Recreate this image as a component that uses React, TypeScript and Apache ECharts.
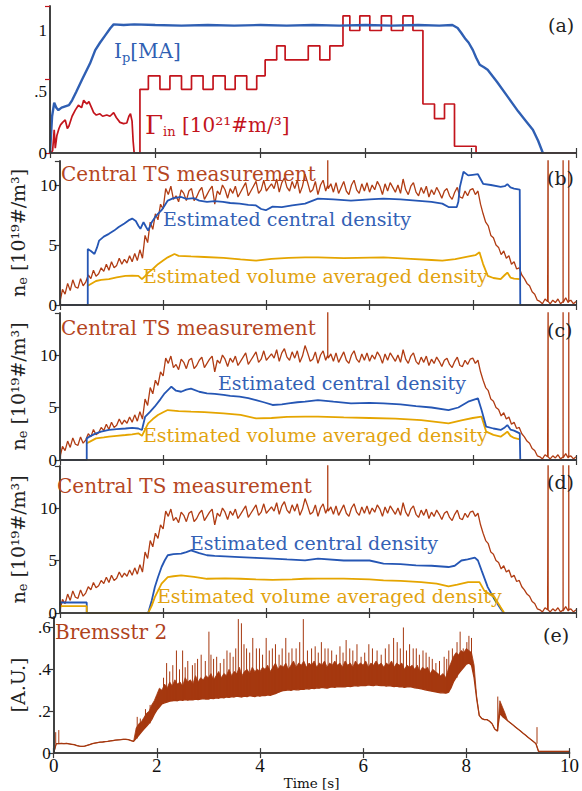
import React, { useEffect, useRef } from 'react';
import * as echarts from 'echarts';

// ---------- Panel (a): plasma current and gas puff ----------
const ipT = [0, 0.04, 0.08, 0.12, 0.16, 0.22, 0.29, 0.36, 0.42, 0.5, 0.61, 0.76, 0.86, 0.95, 1.05, 1.15, 1.21, 1.4, 1.6, 2.0, 2.5, 3.0, 3.5, 4.0, 4.5, 5.0, 5.5, 6.0, 6.5, 7.0, 7.4, 7.65, 7.75, 7.82, 7.9, 7.96, 8.04, 8.1, 8.17, 8.25, 8.32, 8.5, 8.7, 8.9, 9.05, 9.18, 9.28, 9.37];
const ipV = [0, 0.3, 0.41, 0.37, 0.35, 0.37, 0.38, 0.39, 0.43, 0.5, 0.6, 0.73, 0.84, 0.9, 0.96, 1.02, 1.05, 1.045, 1.05, 1.045, 1.04, 1.045, 1.04, 1.045, 1.04, 1.045, 1.04, 1.045, 1.04, 1.045, 1.04, 1.045, 1.02, 0.98, 0.93, 0.9, 0.84, 0.78, 0.72, 0.7, 0.68, 0.58, 0.46, 0.34, 0.26, 0.19, 0.1, 0.0];

const gammaPreT = [0.02, 0.05, 0.08, 0.1, 0.13, 0.17, 0.2, 0.24, 0.29, 0.33, 0.36, 0.42, 0.48, 0.54, 0.6, 0.64, 0.7, 0.74, 0.8, 0.83, 0.88, 0.95, 1.0, 1.08, 1.14, 1.21, 1.26, 1.33, 1.4, 1.46, 1.5, 1.53, 1.56, 1.58, 1.6, 1.71];
const gammaPreV = [0, 0.02, 0.19, 0.04, 0.14, 0.2, 0.23, 0.25, 0.27, 0.2, 0.22, 0.3, 0.35, 0.39, 0.37, 0.43, 0.4, 0.42, 0.36, 0.33, 0.31, 0.32, 0.3, 0.31, 0.3, 0.33, 0.29, 0.25, 0.24, 0.245, 0.3, 0.32, 0.26, 0.1, 0, 0];
const gammaStepT = [1.71, 1.87, 2.09, 2.28, 2.5, 2.69, 2.91, 3.1, 3.33, 3.52, 3.74, 3.93, 4.09, 4.31, 4.47, 4.91, 5.13, 5.32, 5.57, 5.7, 5.89, 6.08, 6.3, 6.49, 6.71, 6.9, 7.09, 7.31, 7.5, 7.69, 8.1, 10];
const gammaStepV = [0.52, 0.63, 0.52, 0.63, 0.52, 0.63, 0.52, 0.63, 0.52, 0.63, 0.52, 0.63, 0.76, 0.875, 0.76, 0.875, 0.76, 0.875, 1.12, 1.0, 1.12, 1.0, 1.12, 1.0, 1.12, 1.0, 0.4, 0.28, 0.4, 0.055, 0];

// ---------- Central Thomson scattering measurement (same in b, c, d), every 0.05 s ----------
const TS_DT = 0.05;
const tsVals = [
  0.2, 1.3, 0.9, 1.8, 1.2, 2.1, 1.5, 1.4, 2.2, 1.6, 1.9, 2.5, 2.2, 2.9, 2.4, 2.6, 3.1, 2.8, 3.4, 2.9,
  3.6, 3.1, 3.3, 3.9, 3.4, 3.8, 3.5, 4.1, 3.6, 4.3, 3.7, 4.6, 3.9, 5.8, 5.2, 6.9, 6.3, 7.6, 7.1, 8.4,
  8.0, 9.7, 9.2, 9.9, 8.8, 9.1, 8.6, 9.6, 9.3, 8.7, 9.5, 9.7, 8.7, 9.0, 9.5, 9.8, 8.8, 9.2, 9.6, 9.9,
  8.4, 9.5, 9.2, 10.0, 9.6, 8.9, 9.7, 9.3, 9.9, 9.0, 9.4, 9.8, 10.2, 9.1, 9.5, 9.9, 10.3, 9.3, 9.6, 10.4,
  9.5, 9.8, 10.1, 9.7, 10.5, 9.4, 10.2, 10.6, 9.8, 9.5, 10.3, 9.7, 10.4, 9.3, 9.9, 10.9, 10.2, 9.4, 9.6, 10.3,
  9.2, 10.0, 10.4, 9.5, 9.7, 10.1, 9.4, 10.2, 9.3, 9.8, 10.3, 9.5, 9.2, 10.0, 10.4, 9.6, 9.3, 10.1, 9.5, 10.2,
  9.4, 10.0, 9.6, 10.3, 9.9, 9.2, 10.1, 9.5, 10.2, 9.8, 9.4, 10.0, 9.3, 10.5, 9.6, 9.2, 9.9, 10.2, 9.4, 9.1,
  9.8, 9.3, 9.9, 9.0, 9.6, 9.2, 9.8, 9.4, 8.9, 9.5, 9.7, 9.1, 8.8, 9.4, 9.8, 9.0, 8.9, 9.5, 9.1, 9.6,
  9.7, 9.2, 9.5, 8.4, 7.6, 6.9, 6.6, 5.8, 5.6, 5.0, 4.8, 4.2, 4.5, 3.9, 4.1, 3.4, 3.6, 3.0, 3.1, 2.5,
  2.2, 1.8, 1.6, 1.1, 0.9, 0.4, 0.3, 0.1, 0.5, 0.3, 0.1, 0.4, 0.2, 0.5, 0.1, 0.3, 0.6, 0.2, 0.4, 0.1,
  0.3,
];
const tsSpikeT = [5.19, 9.46, 9.75, 9.86];
const tsSpikeBase = [10.0, 0.3, 0.2, 0.3];
const tsSpikeTop = [16, 16, 16, 16];

// ---------- Panel (b) estimates ----------
const cdBT = [0, 0.54, 0.54, 0.6, 0.67, 0.72, 0.76, 0.85, 0.95, 1.05, 1.14, 1.25, 1.33, 1.4, 1.47, 1.52, 1.56, 1.62, 1.67, 1.71, 1.78, 1.84, 1.9, 1.97, 2.03, 2.09, 2.2, 2.35, 2.45, 2.6, 2.7, 2.85, 3.0, 3.16, 3.3, 3.48, 3.65, 3.8, 3.9, 3.99, 4.12, 4.3, 4.5, 4.75, 5.0, 5.3, 5.64, 6.0, 6.27, 6.6, 6.9, 7.2, 7.41, 7.53, 7.69, 7.72, 7.75, 7.82, 7.91, 8.0, 8.1, 8.15, 8.2, 8.35, 8.54, 8.62, 8.67, 8.73, 8.8, 8.91, 8.92, 10];
const cdBV = [0, 0, 4.67, 4.5, 4.25, 4.8, 5.37, 5.7, 5.93, 6.2, 6.5, 6.8, 7.05, 7.2, 7.0, 6.6, 6.35, 6.9, 6.5, 6.2, 6.9, 7.3, 7.6, 7.9, 8.3, 8.7, 8.9, 9.0, 8.85, 8.9, 8.7, 8.6, 8.65, 8.6, 8.5, 8.45, 8.35, 8.3, 8.0, 7.9, 8.2, 8.15, 8.3, 8.45, 8.87, 8.8, 8.7, 8.8, 8.87, 8.8, 8.7, 8.6, 8.45, 8.16, 8.16, 8.6, 9.84, 11.1, 10.8, 10.85, 10.9, 10.5, 10.1, 10.0, 9.84, 9.9, 10.07, 9.8, 9.7, 9.62, 0, 0];
const vaBT = [0.54, 0.6, 0.7, 0.8, 0.95, 1.1, 1.27, 1.4, 1.52, 1.59, 1.65, 1.71, 1.8, 1.9, 2.0, 2.09, 2.22, 2.3, 2.54, 2.8, 3.17, 3.5, 3.8, 4.1, 4.43, 4.75, 5.0, 5.5, 6.0, 6.27, 6.8, 7.2, 7.41, 7.66, 7.9, 8.05, 8.13, 8.2, 8.29, 8.4, 8.54, 8.62, 8.67, 8.73, 8.8, 8.91];
const vaBV = [1.6, 1.75, 2.0, 2.1, 2.15, 2.3, 2.43, 2.45, 2.43, 2.15, 2.4, 2.7, 3.0, 3.4, 3.7, 3.97, 4.25, 4.1, 4.05, 4.0, 3.92, 3.8, 3.7, 3.85, 3.92, 3.97, 3.97, 3.9, 3.95, 3.97, 3.85, 3.75, 3.69, 3.83, 4.03, 4.15, 4.39, 3.41, 2.43, 2.25, 2.15, 2.5, 2.7, 2.29, 2.2, 2.15];

// ---------- Panel (c) estimates ----------
const cdCT = [0, 0.52, 0.52, 0.6, 0.7, 0.8, 0.95, 1.1, 1.27, 1.4, 1.52, 1.59, 1.65, 1.75, 1.84, 1.95, 2.03, 2.16, 2.25, 2.35, 2.45, 2.54, 2.7, 2.85, 3.0, 3.17, 3.3, 3.48, 3.65, 3.8, 3.95, 4.12, 4.3, 4.43, 4.6, 4.75, 5.0, 5.3, 5.64, 6.0, 6.27, 6.6, 6.9, 7.2, 7.53, 7.72, 7.91, 8.1, 8.17, 8.26, 8.4, 8.54, 8.62, 8.67, 8.73, 8.8, 8.91, 8.92, 10];
const cdCV = [0, 0, 2.06, 2.3, 2.54, 2.7, 2.86, 2.95, 3.0, 3.05, 3.0, 2.86, 4.1, 4.6, 5.1, 5.8, 6.35, 6.98, 6.6, 6.5, 6.7, 6.8, 6.5, 6.35, 6.3, 6.2, 6.1, 6.03, 5.9, 5.7, 5.5, 5.24, 5.3, 5.4, 5.5, 5.55, 5.71, 5.55, 5.4, 5.45, 5.4, 5.3, 5.14, 5.0, 4.76, 5.0, 5.55, 5.87, 4.76, 3.17, 3.0, 2.86, 3.1, 3.33, 2.9, 2.8, 2.54, 0, 0];
const vaCT = [0.52, 0.6, 0.7, 0.85, 0.95, 1.1, 1.27, 1.4, 1.52, 1.59, 1.65, 1.71, 1.8, 1.9, 2.0, 2.09, 2.3, 2.54, 2.8, 3.17, 3.5, 3.8, 4.1, 4.4, 4.75, 5.0, 5.5, 6.0, 6.5, 7.0, 7.53, 7.8, 8.0, 8.17, 8.26, 8.4, 8.54, 8.62, 8.67, 8.73, 8.8, 8.91];
const vaCV = [1.59, 1.8, 2.06, 2.15, 2.22, 2.3, 2.38, 2.45, 2.54, 2.3, 2.9, 3.49, 3.9, 4.29, 4.55, 4.76, 4.65, 4.6, 4.55, 4.44, 4.3, 3.97, 4.0, 4.1, 4.13, 4.13, 4.05, 4.0, 3.95, 3.8, 3.49, 3.8, 4.0, 4.13, 2.7, 2.4, 2.22, 2.5, 2.7, 2.3, 2.1, 1.97];

// ---------- Panel (d) estimates ----------
const cdDT = [0, 0, 0.52, 0.52, 1.71, 1.78, 1.84, 1.9, 1.97, 2.03, 2.09, 2.2, 2.35, 2.45, 2.54, 2.7, 2.85, 3.0, 3.2, 3.48, 3.8, 4.12, 4.4, 4.75, 5.0, 5.5, 6.0, 6.27, 6.6, 6.9, 7.2, 7.53, 7.65, 7.78, 7.9, 8.04, 8.1, 8.17, 8.29, 8.42, 8.54, 8.6];
const cdDV = [0, 1.0, 1.0, 0, 0, 1.2, 2.47, 3.4, 4.38, 5.0, 5.5, 5.6, 5.65, 5.8, 5.97, 5.7, 5.5, 5.45, 5.4, 5.33, 5.25, 5.17, 5.1, 5.02, 5.18, 5.0, 5.0, 4.7, 4.65, 4.54, 4.5, 4.38, 4.5, 5.0, 5.1, 5.28, 5.0, 4.06, 2.47, 1.3, 0.4, 0];
const vaDT = [0, 0, 0.52, 0.52, 1.71, 1.78, 1.84, 1.97, 2.09, 2.2, 2.35, 2.6, 2.85, 3.2, 3.5, 3.8, 4.12, 4.5, 4.75, 5.0, 5.5, 6.0, 6.27, 6.6, 7.0, 7.3, 7.53, 7.7, 7.91, 8.13, 8.22, 8.32, 8.42, 8.54, 8.61];
const vaDV = [0, 0.65, 0.65, 0, 0, 0.7, 1.51, 2.8, 3.42, 3.5, 3.58, 3.45, 3.26, 3.3, 3.26, 3.2, 3.16, 3.2, 3.26, 3.27, 3.27, 3.2, 3.1, 3.05, 2.95, 2.8, 2.53, 2.7, 2.94, 2.94, 2.15, 1.8, 1.51, 0.55, 0];

// ---------- Panel (e): Bremsstrahlung, every 0.05 s (lower envelope / body top) ----------
const BR_DT = 0.05;
const bremLo = [
  0.0, 0.045, 0.045, 0.046, 0.045, 0.046, 0.044, 0.042, 0.04, 0.036, 0.033, 0.032, 0.033, 0.037, 0.041, 0.045, 0.048, 0.05, 0.052, 0.053,
  0.055, 0.056, 0.058, 0.06, 0.062, 0.063, 0.064, 0.066, 0.066, 0.064, 0.06, 0.056, 0.07, 0.085, 0.1, 0.115, 0.128, 0.142, 0.16, 0.185,
  0.205, 0.22, 0.235, 0.24, 0.244, 0.248, 0.25, 0.252, 0.25, 0.254, 0.252, 0.255, 0.253, 0.256, 0.254, 0.258, 0.256, 0.258, 0.26, 0.258,
  0.258, 0.262, 0.26, 0.264, 0.262, 0.266, 0.264, 0.268, 0.266, 0.27, 0.268, 0.272, 0.27, 0.268, 0.272, 0.27, 0.274, 0.272, 0.27, 0.274,
  0.272, 0.276, 0.274, 0.278, 0.276, 0.28, 0.284, 0.29, 0.295, 0.298, 0.3, 0.302, 0.3, 0.304, 0.302, 0.302, 0.306, 0.304, 0.308, 0.306,
  0.31, 0.308, 0.312, 0.31, 0.314, 0.312, 0.31, 0.314, 0.316, 0.314, 0.318, 0.316, 0.318, 0.316, 0.32, 0.318, 0.32, 0.322, 0.32, 0.322,
  0.324, 0.322, 0.326, 0.324, 0.322, 0.326, 0.324, 0.322, 0.324, 0.32, 0.322, 0.32, 0.318, 0.32, 0.316, 0.318, 0.314, 0.316, 0.317, 0.315,
  0.312, 0.31, 0.308, 0.305, 0.302, 0.3, 0.297, 0.295, 0.293, 0.29, 0.288, 0.288, 0.286, 0.29, 0.31, 0.34, 0.36, 0.38, 0.395, 0.41,
  0.425, 0.43, 0.42, 0.36, 0.26, 0.18, 0.165, 0.16, 0.16, 0.152, 0.14, 0.115, 0.105, 0.19, 0.175, 0.165, 0.155, 0.145, 0.135, 0.125,
  0.115, 0.105, 0.095, 0.085, 0.075, 0.065, 0.055, 0.045, 0.008, 0.008, 0.008, 0.008, 0.008, 0.008, 0.008, 0.008, 0.008, 0.008, 0.008, 0.008,
  0.008,
];
const bremHi = [
  0.0, 0.045, 0.045, 0.046, 0.045, 0.046, 0.044, 0.042, 0.04, 0.036, 0.033, 0.032, 0.033, 0.037, 0.041, 0.045, 0.048, 0.05, 0.052, 0.053,
  0.055, 0.056, 0.058, 0.06, 0.062, 0.063, 0.064, 0.066, 0.066, 0.064, 0.06, 0.056, 0.12, 0.14, 0.15, 0.17, 0.19, 0.2, 0.23, 0.25,
  0.28, 0.31, 0.3, 0.33, 0.31, 0.34, 0.32, 0.35, 0.33, 0.34, 0.32, 0.36, 0.34, 0.35, 0.33, 0.37, 0.34, 0.36, 0.35, 0.37,
  0.36, 0.38, 0.35, 0.37, 0.39, 0.36, 0.38, 0.37, 0.4, 0.37, 0.39, 0.38, 0.41, 0.37, 0.39, 0.4, 0.38, 0.41, 0.39, 0.4,
  0.39, 0.41, 0.4, 0.42, 0.39, 0.41, 0.43, 0.4, 0.42, 0.41, 0.43, 0.4, 0.42, 0.44, 0.41, 0.43, 0.42, 0.44, 0.41, 0.43,
  0.42, 0.44, 0.41, 0.43, 0.42, 0.44, 0.41, 0.43, 0.42, 0.44, 0.42, 0.43, 0.41, 0.44, 0.42, 0.43, 0.41, 0.44, 0.42, 0.43,
  0.42, 0.44, 0.41, 0.43, 0.42, 0.44, 0.42, 0.43, 0.41, 0.43, 0.42, 0.44, 0.41, 0.43, 0.42, 0.43, 0.4, 0.42, 0.41, 0.42,
  0.4, 0.42, 0.39, 0.41, 0.4, 0.41, 0.38, 0.4, 0.39, 0.38, 0.37, 0.38, 0.36, 0.4, 0.43, 0.46, 0.48, 0.47, 0.49, 0.48,
  0.5, 0.49, 0.48, 0.42, 0.27, 0.18, 0.165, 0.16, 0.16, 0.152, 0.14, 0.115, 0.105, 0.25, 0.22, 0.19, 0.155, 0.145, 0.135, 0.125,
  0.115, 0.105, 0.095, 0.085, 0.075, 0.065, 0.055, 0.045, 0.008, 0.008, 0.008, 0.008, 0.008, 0.008, 0.008, 0.008, 0.008, 0.008, 0.008, 0.008,
  0.008,
];
const bremSpikeT = [0.04, 0.1, 1.62, 1.68, 1.78, 1.87, 2.03, 2.13, 2.19, 2.25, 2.31, 2.38, 2.44, 2.5, 2.55, 2.6, 2.69, 2.74, 2.79, 2.86, 2.94, 3.01, 3.05, 3.1, 3.16, 3.23, 3.3, 3.36, 3.42, 3.48, 3.53, 3.58, 3.64, 3.69, 3.74, 3.8, 3.86, 3.93, 3.99, 4.05, 4.12, 4.18, 4.24, 4.3, 4.37, 4.43, 4.5, 4.56, 4.62, 4.7, 4.77, 4.84, 4.92, 5.0, 5.07, 5.13, 5.19, 5.26, 5.32, 5.39, 5.48, 5.55, 5.61, 5.67, 5.74, 5.8, 5.88, 5.96, 6.03, 6.11, 6.18, 6.27, 6.35, 6.43, 6.5, 6.59, 6.66, 6.72, 6.78, 6.84, 6.9, 6.97, 7.03, 7.09, 7.16, 7.22, 7.28, 7.34, 7.41, 7.48, 7.57, 7.62, 7.66, 7.73, 7.82, 7.88, 7.94, 8.01, 8.05, 8.1, 8.61, 9.37];
const bremSpikeV = [0.1, 0.11, 0.173, 0.165, 0.21, 0.23, 0.27, 0.36, 0.43, 0.39, 0.42, 0.49, 0.4, 0.49, 0.41, 0.44, 0.42, 0.43, 0.45, 0.47, 0.44, 0.58, 0.47, 0.45, 0.46, 0.43, 0.45, 0.49, 0.48, 0.46, 0.5, 0.64, 0.62, 0.52, 0.5, 0.48, 0.55, 0.5, 0.5, 0.47, 0.55, 0.49, 0.5, 0.52, 0.47, 0.5, 0.55, 0.48, 0.5, 0.5, 0.53, 0.64, 0.49, 0.5, 0.51, 0.48, 0.53, 0.5, 0.5, 0.49, 0.47, 0.51, 0.48, 0.54, 0.5, 0.49, 0.52, 0.46, 0.48, 0.52, 0.5, 0.49, 0.47, 0.5, 0.52, 0.55, 0.53, 0.5, 0.6, 0.49, 0.52, 0.5, 0.5, 0.47, 0.49, 0.48, 0.46, 0.45, 0.43, 0.44, 0.46, 0.45, 0.49, 0.5, 0.53, 0.58, 0.5, 0.53, 0.56, 0.55, 0.27, 0.124];

// ---------- tick labels ----------
const xTickLabels = ['0', '2', '4', '6', '8', '10'];
const aTickLabels = ['0', '.5', '1'];
const neTickLabels = ['0', '5', '10'];
const eTickLabels = ['0', '.2', '.4', '.6'];

// ---------- styling ----------
const C_IP = '#2f5fb3';
const C_GAM = '#c3141c';
const C_TS = '#b03c13';
const C_CD = '#2556b4';
const C_VA = '#e5a500';
const C_BR = '#a5380f';
const AX = '#3a3a3a';
const SERIF = '"DejaVu Serif", serif';
const NUMF = '"Liberation Serif", serif';

const pair = (t: number[], v: number[]) => t.map((x, i) => [x, v[i]]);

function gammaData() {
  const pts: number[][] = pair(gammaPreT, gammaPreV);
  for (let i = 0; i < gammaStepV.length; i++) {
    pts.push([gammaStepT[i], gammaStepV[i]]);
    pts.push([gammaStepT[i + 1], gammaStepV[i]]);
  }
  return pts;
}

function tsData() {
  const pts: number[][] = tsVals.map((v, i) => [+(i * TS_DT).toFixed(2), v]);
  tsSpikeT.forEach((t, k) => {
    pts.push([t, tsSpikeBase[k]], [t, tsSpikeTop[k]], [t, tsSpikeBase[k]]);
  });
  return pts.sort((a, b) => a[0] - b[0]);
}

const bremLoData = () => bremLo.map((v, i) => [+(i * BR_DT).toFixed(2), v]);
const bremHiData = () => bremHi.map((v, i) => [+(i * BR_DT).toFixed(2), v]);
function bremSpikeData() {
  const pts: (number | null)[][] = [];
  bremSpikeT.forEach((t, k) => {
    const base = bremLo[Math.round(t / BR_DT)];
    pts.push([t, base], [t, bremSpikeV[k]], [t, null]);
  });
  return pts;
}

const panels = [
  { top: 6, height: 147, ymax: 1.2, yint: 0.5, ticks: aTickLabels, rint: 0.6, rcolor: C_GAM },
  { top: 161, height: 144, ymax: 12, yint: 5, ticks: neTickLabels, rint: 5, rcolor: AX },
  { top: 313, height: 147, ymax: 14, yint: 5, ticks: neTickLabels, rint: 5, rcolor: AX },
  { top: 466, height: 147, ymax: 14, yint: 5, ticks: neTickLabels, rint: 5, rcolor: AX },
  { top: 617, height: 146, ymax: 0.65, yint: 0.2, ticks: eTickLabels, rint: 0.2, rcolor: AX },
];

const neName = '{n|n}{s|e}{n| [10¹⁹#/m³]}';
const neRich = {
  n: { fontFamily: SERIF, fontSize: 19, color: '#222' },
  s: { fontFamily: SERIF, fontSize: 13, color: '#222', padding: [10, 0, 0, 0] },
};

function buildOption() {
  const grid: any[] = [];
  const xAxis: any[] = [];
  const yAxis: any[] = [];
  panels.forEach((p, gi) => {
    grid.push({ left: 50, right: 6, top: p.top, height: p.height });
    const last = gi === panels.length - 1;
    xAxis.push({
      type: 'value', gridIndex: gi, min: 0, max: 10, interval: 2, position: 'bottom', z: 5,
      axisLine: { show: true, lineStyle: { color: AX, width: 1.6 } },
      axisTick: { show: true, inside: true, length: 5, lineStyle: { color: AX, width: 1.2 } },
      splitLine: { show: false },
      axisLabel: {
        show: last, margin: 3, fontFamily: NUMF, fontSize: 19, color: '#111',
        formatter: (v: number) => (v % 2 === 0 ? xTickLabels[v / 2] : ''),
      },
      name: last ? 'Time [s]' : '', nameLocation: 'middle', nameGap: 9,
      nameTextStyle: { fontFamily: SERIF, fontSize: 13.5, color: '#111', verticalAlign: 'top' },
    });
    xAxis.push({
      type: 'value', gridIndex: gi, min: 0, max: 10, interval: 2, position: 'top', z: 5,
      axisLine: { show: true, lineStyle: { color: AX, width: 1.6 } },
      axisTick: { show: true, inside: true, length: 5, lineStyle: { color: AX, width: 1.2 } },
      splitLine: { show: false }, axisLabel: { show: false },
    });
    yAxis.push({
      type: 'value', gridIndex: gi, min: 0, max: p.ymax, interval: p.yint, position: 'left', z: 5,
      axisLine: { show: true, lineStyle: { color: AX, width: 1.6 } },
      axisTick: { show: false }, splitLine: { show: false },
      axisLabel: {
        margin: 3, fontFamily: NUMF, fontSize: 17, color: '#111',
        formatter: (v: number) => {
          const k = Math.round(v / p.yint);
          if (Math.abs(v - k * p.yint) > 1e-6) return '';
          return p.ticks[k] ?? '';
        },
      },
      name: gi === 0 ? '' : gi === 4 ? '[A.U.]' : neName,
      nameLocation: 'middle', nameGap: 20, nameRotate: 90,
      nameTextStyle: { fontFamily: SERIF, fontSize: 19, color: '#222', rich: neRich },
    });
    yAxis.push({
      type: 'value', gridIndex: gi, min: 0, max: p.ymax, interval: p.rint, position: 'right', z: 5,
      axisLine: { show: true, lineStyle: { color: AX, width: 1.6 } },
      axisTick: { show: true, inside: true, length: 5, lineStyle: { color: p.rcolor, width: 1.2 } },
      splitLine: { show: false }, axisLabel: { show: false },
    });
  });

  const line = (gi: number, data: any[], color: string, width: number, extra: any = {}) => ({
    type: 'line', xAxisIndex: gi * 2, yAxisIndex: gi * 2, data, showSymbol: false, symbol: 'none',
    silent: true, clip: true, lineStyle: { color, width }, ...extra,
  });

  const ts = tsData();
  const series: any[] = [
    line(0, gammaData(), C_GAM, 1.7),
    line(0, pair(ipT, ipV), C_IP, 2.4),
    line(1, ts, C_TS, 1.3),
    line(1, pair(vaBT, vaBV), C_VA, 1.8),
    line(1, pair(cdBT, cdBV), C_CD, 1.8),
    line(2, ts, C_TS, 1.3),
    line(2, pair(vaCT, vaCV), C_VA, 1.8),
    line(2, pair(cdCT, cdCV), C_CD, 1.8),
    line(3, ts, C_TS, 1.3),
    line(3, pair(cdDT, cdDV), C_CD, 1.8),
    line(3, pair(vaDT, vaDV), C_VA, 1.8),
    // body of the signal: filled down to the axis, then masked in white below the lower envelope
    line(4, bremHiData(), C_BR, 0.8, { areaStyle: { color: C_BR, opacity: 1 } }),
    line(4, bremLoData(), C_BR, 1.3, { areaStyle: { color: '#ffffff', opacity: 1 } }),
    line(4, bremSpikeData(), C_BR, 1.0, { connectNulls: false }),
  ];

  const txt = (x: number, y: number, text: string, fill: string, size: number, rich?: any) => ({
    type: 'text', x, y, silent: true, z: 100,
    style: { text, fill, font: `${size}px ${SERIF}`, align: 'left', verticalAlign: 'middle', rich },
  });
  const subRich = (color: string, main: number, sub: number, big?: number) => ({
    m: { fill: color, fontFamily: SERIF, fontSize: main },
    g: { fill: color, fontFamily: SERIF, fontSize: big ?? main },
    s: { fill: color, fontFamily: SERIF, fontSize: sub, padding: [12, 0, 0, 0] },
  });

  const graphic = [
    txt(548, 25, '(a)', '#222', 19),
    txt(547, 178, '(b)', '#222', 19),
    txt(547, 330, '(c)', '#222', 19),
    txt(547, 482, '(d)', '#222', 19),
    txt(543, 635, '(e)', '#222', 19),
    txt(114, 51, '{m|I}{s|p}{m|[MA]}', C_IP, 20, subRich(C_IP, 20, 13)),
    txt(145, 125, '{g|Γ}{s|in}{m| [10²¹#m/³]}', C_GAM, 20, subRich(C_GAM, 20, 13, 26)),
    txt(61, 174, 'Central TS measurement', '#b5461f', 20),
    txt(61, 328, 'Central TS measurement', '#b5461f', 20),
    txt(57, 486, 'Central TS measurement', '#b5461f', 20),
    txt(163, 219, 'Estimated central density', '#3461b5', 19),
    txt(218, 383, 'Estimated central density', '#3461b5', 19),
    txt(190, 543, 'Estimated central density', '#3461b5', 19),
    txt(143, 276, 'Estimated volume averaged density', '#e2a30f', 19),
    txt(143, 435, 'Estimated volume averaged density', '#e2a30f', 19),
    txt(157, 596, 'Estimated volume averaged density', '#e2a30f', 19),
    txt(55, 632, 'Bremsstr 2', '#b0431c', 20),
  ];

  return { animation: false, backgroundColor: '#ffffff', grid, xAxis, yAxis, series, graphic };
}

export default function App() {
  const ref = useRef<HTMLDivElement>(null);
  useEffect(() => {
    const chart = echarts.init(ref.current!, null, { renderer: 'svg' });
    chart.setOption(buildOption() as any);
    return () => chart.dispose();
  }, []);
  return (
    <div
      ref={ref}
      style={{ position: 'fixed', left: 0, top: 0, width: 582, height: 791, background: '#fff' }}
    />
  );
}
